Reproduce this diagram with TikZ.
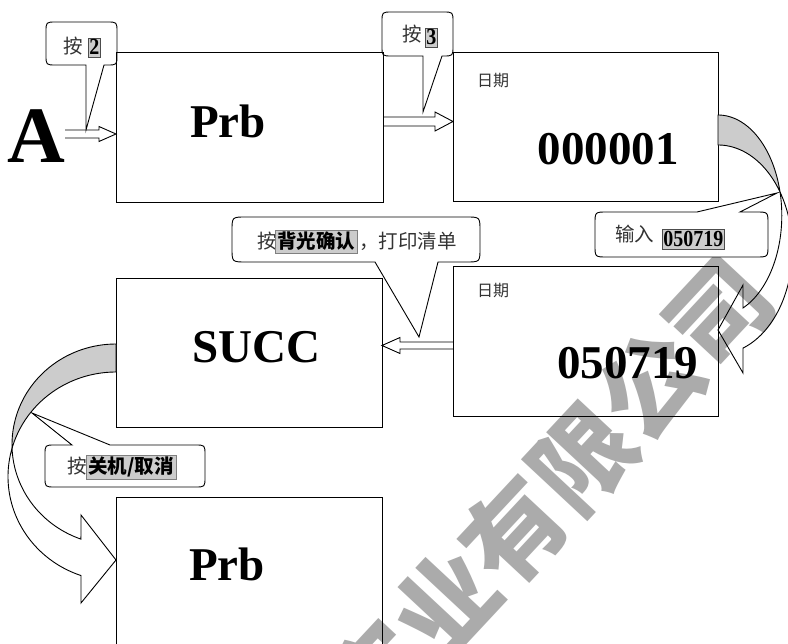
\documentclass[tikz,border=0pt]{standalone}
\usepackage{fontspec}
\setmainfont{Liberation Serif}
\newfontfamily\cjk{Noto Sans CJK SC}
\usetikzlibrary{calc}
\newcommand\blockarr[5]{%
  \draw[ln] ($(#1)+(0,{-(#3)})$) -- ($(#2)+({-(#5)},{-(#3)})$) -- ($(#2)+({-(#5)},{-(#4)})$) -- (#2) -- ($(#2)+({-(#5)},{#4})$) -- ($(#2)+({-(#5)},{#3})$) -- ($(#1)+(0,{#3})$);}
\begin{document}
\begin{tikzpicture}[x=1pt,y=-1pt,
  ln/.style={draw=black,line width=0.9pt,line join=miter},
  callout/.style={ln,fill=white},
  boxst/.style={ln,rectangle,inner sep=0pt,outer sep=0pt,anchor=north west},
  bigA/.style={inner sep=0pt,font=\fontsize{80}{80}\selectfont\bfseries},
  mid/.style={inner sep=0pt,font=\fontsize{47}{50}\selectfont\bfseries},
  small/.style={inner sep=0pt,text=black!80,font=\cjk\fontsize{16}{16}\selectfont},
  cj/.style={inner sep=0pt,text=black!80,font=\cjk\fontsize{19.5}{20}\selectfont},
  hln/.style={fill=black!20,draw=black!70,line width=0.5pt,inner xsep=1pt,inner ysep=2pt,font=\fontsize{20}{20}\selectfont\bfseries},
  hlcj/.style={fill=black!20,draw=black!50,line width=0.5pt,inner xsep=2pt,inner ysep=2pt,font=\cjk\fontsize{19.5}{20}\selectfont\bfseries},
  wm/.style={inner sep=0pt,text=black!33,font=\cjk\fontsize{100}{100}\selectfont\bfseries},
  back/.style={ln,fill=black!20}
]
\useasboundingbox (0,0) rectangle (788,644);
\fill[white] (0,0) rectangle (788,644);

% watermark
\node[wm,rotate=47] (wm) at (548,494) {实业有限公司};

% callouts
\draw[callout] (56,22) -- (107,22) .. controls (117,22) .. (117,32) -- (117,55) .. controls (117,65) .. (107,65) -- (104,65) -- (86,130) -- (86,65) -- (56,65) .. controls (46,65) .. (46,55) -- (46,32) .. controls (46,22) .. (56,22) -- cycle;
\draw[callout] (392,12) -- (443,12) .. controls (453,12) .. (453,22) -- (453,46) .. controls (453,56) .. (443,56) -- (442,56) -- (423,112) -- (423,56) -- (392,56) .. controls (382,56) .. (382,46) -- (382,22) .. controls (382,12) .. (392,12) -- cycle;
\draw[callout] (607,212) -- (697,212) -- (777,193) -- (740,212) -- (756,212) .. controls (768,212) .. (768,224) -- (768,245) .. controls (768,257) .. (756,257) -- (607,257) .. controls (595,257) .. (595,245) -- (595,224) .. controls (595,212) .. (607,212) -- cycle;
\draw[callout] (246,217) -- (466,217) .. controls (480,217) .. (480,231) -- (480,248) .. controls (480,262) .. (466,262) -- (438,262) -- (419,337) -- (375,262) -- (246,262) .. controls (232,262) .. (232,248) -- (232,231) .. controls (232,217) .. (246,217) -- cycle;
\draw[callout] (55,445) -- (72,445) -- (32,413) -- (110,445) -- (195,445) .. controls (205,445) .. (205,455) -- (205,477) .. controls (205,487) .. (195,487) -- (55,487) .. controls (45,487) .. (45,477) -- (45,455) .. controls (45,445) .. (55,445) -- cycle;

% boxes
\node[boxst,minimum width=267pt,minimum height=150pt] (b1) at (116,52) {};
\node[boxst,minimum width=265pt,minimum height=149pt] (b2) at (453,52) {};
\node[boxst,minimum width=265pt,minimum height=150pt] (b3) at (453,266) {};
\node[boxst,minimum width=266pt,minimum height=149pt] (b4) at (116,278) {};
\node[boxst,minimum width=266pt,minimum height=150pt] (b5) at (116,497) {};

% box texts
\node[bigA,anchor=base west] (tA) at (7,163) {A};
\node[mid,anchor=base west] (t1) at (190,138) {Prb};
\node[mid,anchor=base east] (t2) at (679,165) {000001};
\node[mid,anchor=base west] (t3) at (557,379) {050719};
\node[mid,anchor=base west] (t4) at (192,363) {SUCC};
\node[mid,anchor=base west] (t5) at (189,580) {Prb};
\node[small,anchor=base west] (d2) at (477,87) {日期};
\node[small,anchor=base west] (d3) at (477,297) {日期};

% straight block arrows
\coordinate (p1s) at (tA.east |- 0,134);
\coordinate (p1e) at (b1.west |- p1s);
\blockarr{p1s}{p1e}{4}{7.5}{17}
\coordinate (p2s) at ($(b1.east)+(0,-5.5)$);
\coordinate (p2e) at (b2.west |- p2s);
\blockarr{p2s}{p2e}{4.5}{9.5}{18}
\coordinate (p3s) at ($(b3.west)+(0,4.5)$);
\coordinate (p3e) at (b4.east |- p3s);
\blockarr{p3s}{p3e}{3.5}{8}{-18}

% curved arrow b2 -> b3
\draw[back] plot[domain=-90:-13.5,samples=40,variable=\t] ({718+63.8*cos(\t)},{215.5+100.5*sin(\t)}) -- plot[domain=-33.4:-90,samples=40,variable=\t] ({718+74.3*cos(\t)},{249.6+104.6*sin(\t)}) -- cycle;
\draw[ln] plot[domain=-33.4:70.3,samples=60,variable=\t] ({718+74.3*cos(\t)},{249.6+104.6*sin(\t)}) -- (743,373) -- (718,330) -- (743,285) -- plot[domain=66.9:-13.5,samples=60,variable=\t] ({718+63.8*cos(\t)},{215.5+100.5*sin(\t)}) -- cycle;

% curved arrow b4 -> b5
\draw[back] plot[domain=-90:2,samples=40,variable=\t] ({116-104*cos(\t)},{444.5+100.5*sin(\t)}) -- plot[domain=-15.9:-90,samples=40,variable=\t] ({116-108*cos(\t)},{476.6+104.6*sin(\t)}) -- cycle;
\draw[ln] plot[domain=-15.9:71.1,samples=60,variable=\t] ({116-108*cos(\t)},{476.6+104.6*sin(\t)}) -- (81,603) -- (116,560) -- (81,515) -- plot[domain=70.3:2,samples=60,variable=\t] ({116-104*cos(\t)},{444.5+100.5*sin(\t)}) -- cycle;

% callout texts
\node[cj,anchor=base west] (c1a) at (63,54) {按};
\node[hln,anchor=base west] (c1b) at (88,55) {\scalebox{1}[1.15]{2}};
\node[cj,anchor=base west] (c2a) at (402,42) {按};
\node[hln,anchor=base west] (c2b) at (425,45) {\scalebox{1}[1.15]{3}};
\node[cj,anchor=base west] (c3a) at (615,242) {输入};
\node[hln,anchor=base west] (c3b) at (662,247) {\scalebox{1}[1.15]{050719}};
\node[cj,anchor=base west] (c4a) at (257,249) {按};
\node[hlcj,anchor=base west] (c4b) at (275,249) {背光确认};
\node[cj,anchor=base west] (c4c) at (359,249) {，打印清单};
\node[cj,anchor=base west] (c5a) at (67,474) {按};
\node[hlcj,anchor=base west] (c5b) at (86,474) {关机/取消};
\end{tikzpicture}
\end{document}
